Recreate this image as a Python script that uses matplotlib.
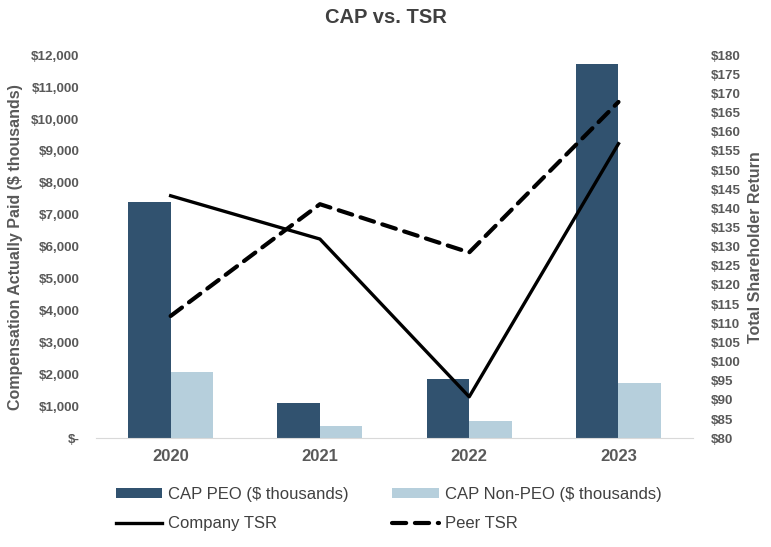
import matplotlib.pyplot as plt
import numpy as np

plt.rcParams['font.family'] = ['Liberation Sans', 'DejaVu Sans']

years = ['2020', '2021', '2022', '2023']
cap_peo = [7400, 1100, 1850, 11720]
cap_non_peo = [2070, 370, 540, 1730]
company_tsr = [143.3, 132.0, 90.8, 156.9]
peer_tsr = [111.9, 141.1, 128.5, 167.8]

dark = '#31526F'
light = '#B6CFDC'
grey = '#595959'

fig = plt.figure(figsize=(7.71, 5.47), dpi=100)
ax = fig.add_axes([0.1245, 0.199, 0.7745, 0.7])
x = np.arange(len(years))
w = 0.285

b1 = ax.bar(x - w / 2, cap_peo, w, color=dark)
b2 = ax.bar(x + w / 2, cap_non_peo, w, color=light)
ax.set_xlim(-0.5, 3.5)
ax.set_ylim(0, 12000)
ax.set_yticks(np.arange(0, 12001, 1000))
ax.set_yticklabels(['$-'] + [f'${v:,}' for v in range(1000, 12001, 1000)])
ax.set_xticks(x)
ax.set_xticklabels(years, fontsize=12, fontweight='bold', color=grey)
ax.tick_params(axis='y', length=0, labelsize=9.6, labelcolor=grey, pad=12)
ax.tick_params(axis='x', length=0, pad=8)
for lbl in ax.get_yticklabels():
    lbl.set_fontweight('bold')
for s in ['top', 'right', 'left']:
    ax.spines[s].set_visible(False)
ax.spines['bottom'].set_color('#D9D9D9')
ax.set_ylabel('Compensation Actually Paid ($ thousands)', fontsize=11.5,
              fontweight='bold', color=grey, labelpad=6)

ax2 = ax.twinx()
l1, = ax2.plot(x, company_tsr, color='black', lw=2.4)
l2, = ax2.plot(x, peer_tsr, color='black', lw=3, ls=(0, (3.4, 2.1)),
               dash_capstyle='round')
ax2.set_ylim(80, 180)
ax2.set_yticks(np.arange(80, 181, 5))
ax2.set_yticklabels([f'${v}' for v in range(80, 181, 5)])
ax2.tick_params(axis='y', length=0, labelsize=9.6, labelcolor=grey, pad=13)
for lbl in ax2.get_yticklabels():
    lbl.set_fontweight('bold')
for s in ['top', 'right', 'left', 'bottom']:
    ax2.spines[s].set_visible(False)
ax2.set_ylabel('Total Shareholder Return', fontsize=11.5, fontweight='bold',
               color=grey, labelpad=5)

fig.suptitle('CAP vs. TSR', x=0.5, y=0.985, fontsize=14.5, fontweight='bold',
             color='#404040')

# matplotlib fills legend column by column, so order handles accordingly
leg = fig.legend([b1, l1, b2, l2],
                 ['CAP PEO ($ thousands)', 'Company TSR',
                  'CAP Non-PEO ($ thousands)', 'Peer TSR'],
                 ncol=2, loc='upper left', bbox_to_anchor=(0.150, 0.110),
                 frameon=False, fontsize=12, handlelength=2.8, handleheight=0.5,
                 handletextpad=0.35, columnspacing=2.6, labelspacing=0.85,
                 borderpad=0, borderaxespad=0)
for t in leg.get_texts():
    t.set_color('#404040')

fig.savefig('out.png', dpi=100)
